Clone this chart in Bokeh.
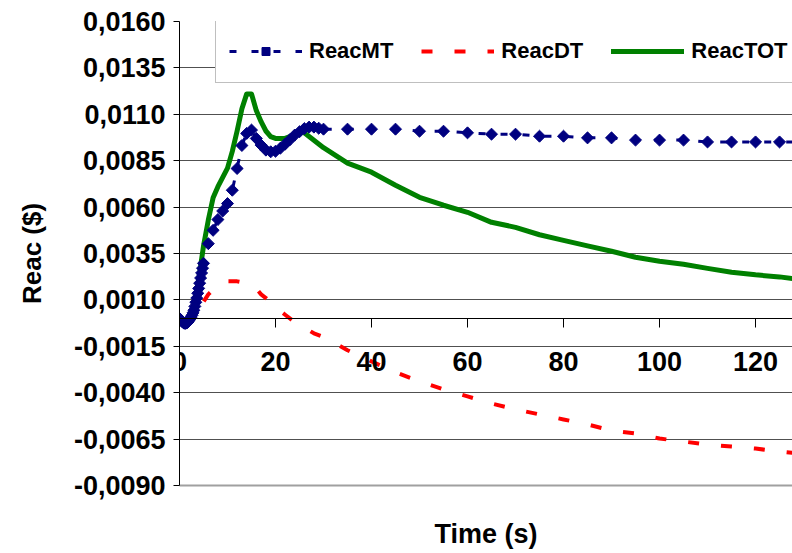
import numpy as np
from bokeh.plotting import figure
from bokeh.models import (Range1d, LinearAxis, FixedTicker, CustomJSTickFormatter,
                          Legend, LegendItem, ColumnDataSource)
from bokeh.embed import file_html
from bokeh.resources import INLINE

# ---------------- data ----------------
mt_time = [0.0, 0.2, 0.4, 0.6, 0.8, 1.0, 1.2, 1.4, 1.6, 1.8, 2.0, 2.2, 2.4, 2.6, 2.8,
           3.0, 3.2, 3.4, 3.6, 3.8, 4.0, 4.2, 4.4, 4.6, 4.8, 5.0,
           6, 7, 8, 9, 10, 11, 12, 13, 14, 15, 16, 17, 18, 19, 20, 21, 22, 23, 24, 25,
           26, 27, 28, 29, 30, 35, 40, 45, 50, 55, 60, 65, 70, 75, 80, 85, 90, 95, 100,
           105, 110, 115, 120, 125, 130]
mt_reac = [0.0000, -0.00006, -0.00012, -0.00018, -0.00023, -0.00026, -0.00026, -0.00025,
           -0.00023, -0.00018, -0.00010, -0.00002, 0.00007, 0.00017, 0.00030, 0.00044,
           0.00065, 0.00087, 0.00110, 0.00136, 0.00162, 0.00190, 0.00218, 0.00245,
           0.00271, 0.00297,
           0.00403, 0.00475, 0.00533, 0.00579, 0.00619, 0.00691, 0.00808, 0.00932,
           0.00997, 0.01015, 0.00970, 0.00934, 0.00907, 0.00898, 0.00901, 0.00917,
           0.00939, 0.00963, 0.00988, 0.01006, 0.01023, 0.01031, 0.01031, 0.01025,
           0.01020, 0.01020, 0.01020, 0.01020, 0.01009, 0.01009, 0.01000, 0.00993,
           0.00993, 0.00982, 0.00982, 0.00973, 0.00973, 0.00961, 0.00961, 0.00961,
           0.00951, 0.00951, 0.00951, 0.00951, 0.00950]

dt_time = [0, 1, 2, 3, 4, 5, 6, 8, 10, 12, 14, 15, 16, 17, 18, 20, 22, 24, 26, 28, 30,
           35, 40, 45, 50, 55, 60, 65, 70, 75, 80, 85, 90, 95, 100, 105, 110, 115, 120,
           125, 130]
dt_reac = [0.0000, -0.0001, 0.0000, 0.0002, 0.0005, 0.0009, 0.0013, 0.0018, 0.0020,
           0.0020, 0.0019, 0.0018, 0.0016, 0.0013, 0.0011, 0.0006, 0.0002, -0.0002,
           -0.0005, -0.0008, -0.0010, -0.00171, -0.00231, -0.00290, -0.00339, -0.00382,
           -0.00420, -0.00458, -0.00490, -0.00517, -0.00544, -0.00571, -0.00604,
           -0.00620, -0.00647, -0.00663, -0.00680, -0.00690, -0.00701, -0.00717, -0.00730]

tot_time = [0, 1, 2, 3, 4, 5, 6, 7, 8, 9, 10, 11, 12, 13, 14, 15, 16, 17, 18, 19, 20,
            21, 22, 23, 24, 25, 26, 27, 28, 29, 30, 35, 40, 45, 50, 55, 60, 65, 70, 75,
            80, 85, 90, 95, 100, 105, 110, 115, 120, 125, 130]
tot_reac = [0.0000, -0.0004, -0.0001, 0.0006, 0.0021, 0.0039, 0.0053, 0.0065, 0.0071,
            0.0076, 0.0081, 0.0090, 0.0101, 0.0113, 0.0121, 0.0121, 0.0112, 0.0106,
            0.0101, 0.0098, 0.0097, 0.0097, 0.0097, 0.0098, 0.0099, 0.0101, 0.0100,
            0.0098, 0.0096, 0.0094, 0.0092, 0.00837, 0.00788, 0.00718, 0.00653,
            0.00610, 0.00572, 0.00518, 0.00491, 0.00451, 0.00421, 0.00391, 0.00362,
            0.00330, 0.00308, 0.00292, 0.00270, 0.00249, 0.00235, 0.00224, 0.00208]

x_ticks = [0, 20, 40, 60, 80, 100, 120]
y_ticks = [-0.009, -0.0065, -0.004, -0.0015, 0.001, 0.0035, 0.006, 0.0085, 0.011,
           0.0135, 0.016]
y_tick_labels = ["-0,0090", "-0,0065", "-0,0040", "-0,0015", "0,0010", "0,0035",
                 "0,0060", "0,0085", "0,0110", "0,0135", "0,0160"]

series_names = ["ReacMT", "ReacDT", "ReacTOT"]
x_title = "Time (s)"
y_title = "Reac ($)"

# ---------------- styling ----------------
FONT = "Liberation Sans"
NAVY = "#000080"
RED = "#ff0000"
GREEN = "#008000"

p = figure(width=792, height=553, output_backend="svg", toolbar_location=None,
           x_range=Range1d(0, 127.7), y_range=Range1d(-0.009, 0.016),
           min_border_left=179, min_border_right=0, min_border_top=21,
           min_border_bottom=68)
p.outline_line_color = None
p.background_fill_color = "white"
p.border_fill_color = "white"

# x axis crossing at y = 0
xa = p.xaxis[0]
xa.fixed_location = 0
xa.ticker = FixedTicker(ticks=x_ticks)
xa.minor_tick_line_color = None
xa.major_tick_out = 9
xa.major_tick_in = 0
xa.major_tick_line_color = "black"
xa.axis_line_color = "black"
xa.major_label_standoff = 25
xa.major_label_text_font = FONT
xa.major_label_text_font_style = "bold"
xa.major_label_text_font_size = "27px"
xa.major_label_text_color = "black"

# blank bottom axis: frame border + x title
bx = LinearAxis(ticker=FixedTicker(ticks=[]), major_label_text_font_size="0px",
                major_tick_out=0, major_tick_in=0, minor_tick_out=0, minor_tick_in=0,
                axis_line_color="#a0a0a0", axis_line_width=2,
                axis_label=x_title, axis_label_standoff=33,
                axis_label_text_font=FONT, axis_label_text_font_style="bold",
                axis_label_text_font_size="27px", axis_label_text_color="black")
p.add_layout(bx, "below")

ya = p.yaxis[0]
ya.ticker = FixedTicker(ticks=y_ticks)
ya.formatter = CustomJSTickFormatter(args=dict(tv=y_ticks, lbl=y_tick_labels), code="""
let best = 0, d = Infinity;
for (let i = 0; i < tv.length; i++) {
  const e = Math.abs(tv[i] - tick);
  if (e < d) { d = e; best = i; }
}
return lbl[best];
""")
ya.minor_tick_line_color = None
ya.major_tick_out = 6
ya.major_tick_in = 0
ya.major_tick_line_color = "black"
ya.axis_line_color = "black"
ya.major_label_standoff = 8
ya.major_label_text_font = FONT
ya.major_label_text_font_style = "bold"
ya.major_label_text_font_size = "27px"
ya.major_label_text_color = "black"
ya.axis_label = y_title
ya.axis_label_standoff = 24
ya.axis_label_text_font = FONT
ya.axis_label_text_font_style = "bold"
ya.axis_label_text_font_size = "26px"
ya.axis_label_text_color = "black"

p.xgrid.visible = False
p.ygrid.ticker = FixedTicker(ticks=y_ticks[1:])
p.ygrid.grid_line_color = "#505050"
p.ygrid.grid_line_width = 1

# ---------------- series ----------------
tot_src = ColumnDataSource(dict(t=tot_time, r=tot_reac))
dt_src = ColumnDataSource(dict(t=dt_time, r=dt_reac))
mt_src = ColumnDataSource(dict(t=mt_time, r=mt_reac))

tot_line = p.line("t", "r", source=tot_src, line_color=GREEN, line_width=5,
                  line_join="round", line_cap="round")
dt_line = p.line("t", "r", source=dt_src, line_color=RED, line_width=4,
                 line_dash="11 22")
mt_line = p.line("t", "r", source=mt_src, line_color=NAVY, line_width=3,
                 line_dash="7 15")
mt_pts = p.scatter("t", "r", source=mt_src, marker="square", angle=np.pi / 4,
                   size=8.5, fill_color=NAVY, line_color=NAVY)

legend = Legend(items=[LegendItem(label=series_names[0], renderers=[mt_line, mt_pts]),
                       LegendItem(label=series_names[1], renderers=[dt_line]),
                       LegendItem(label=series_names[2], renderers=[tot_line])],
                orientation="horizontal", location=(36, 402), margin=0,
                padding=13, spacing=28, glyph_width=73, glyph_height=20,
                label_height=37, label_standoff=7,
                label_text_font=FONT, label_text_font_style="bold",
                label_text_font_size="22px", label_text_color="black",
                border_line_color="#808080", border_line_width=1,
                background_fill_color="white", background_fill_alpha=1.0)
p.add_layout(legend)

open("out.html", "w").write(file_html(p, INLINE))
